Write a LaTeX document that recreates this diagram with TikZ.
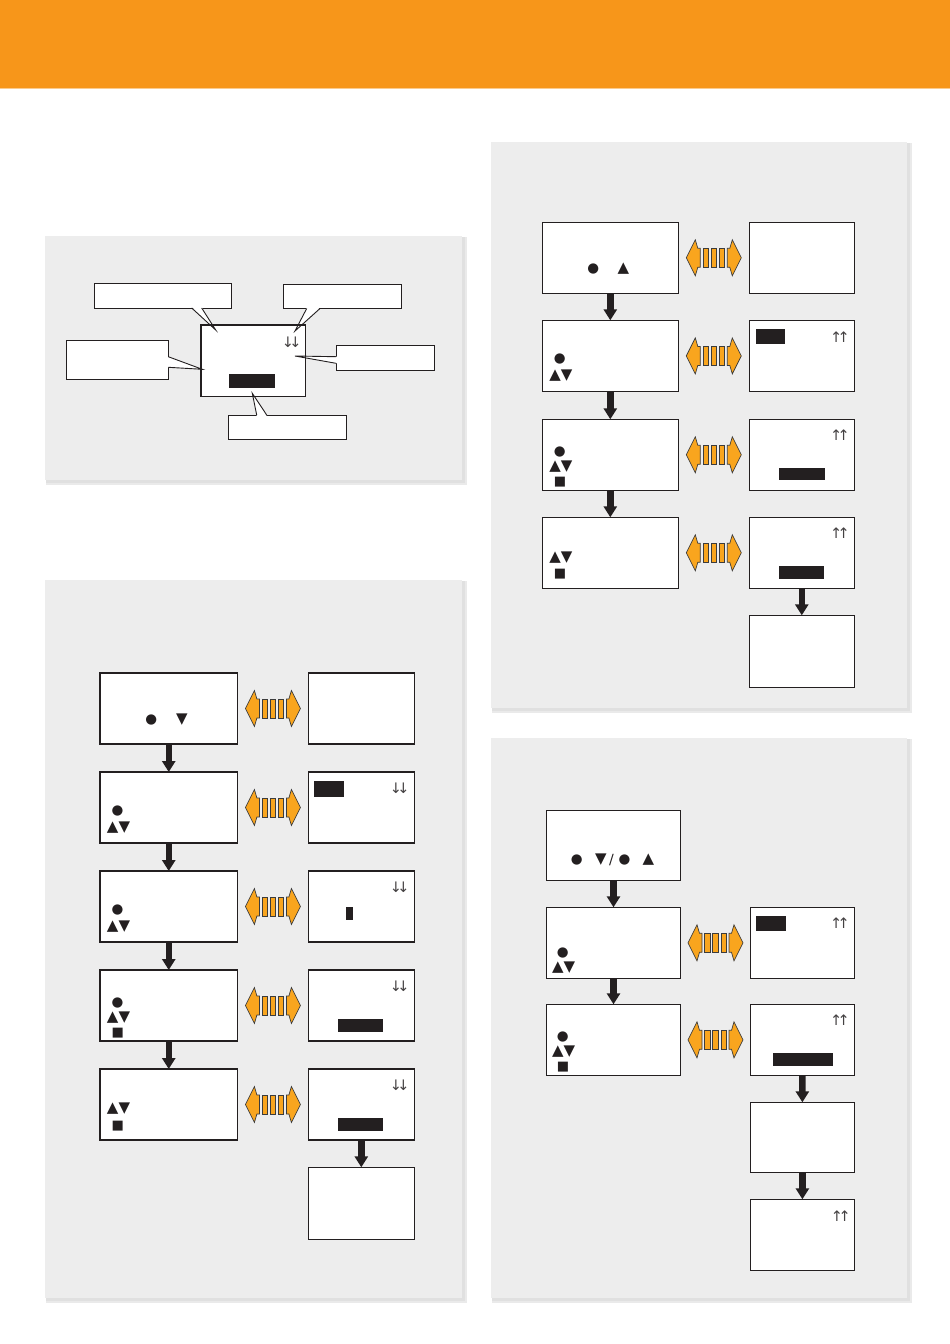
\documentclass[tikz,border=0pt]{standalone}
\usepackage{fontspec}
\usetikzlibrary{fit,calc,arrows.meta}
\newfontfamily\dejavu{DejaVu Sans}
\definecolor{band}{HTML}{F7961A}
\definecolor{bandline}{HTML}{FBCB8E}
\definecolor{pnl}{HTML}{EDEDED}
\definecolor{shdA}{HTML}{E0E0E0}
\definecolor{shdB}{HTML}{EAEAEA}
\definecolor{ink}{HTML}{231F20}
\definecolor{arrfillc}{HTML}{F9A51E}
\definecolor{arredge}{HTML}{3C3C3C}
\tikzset{
  scr/.style={draw=ink, line width=1.1pt, fill=white, inner sep=0pt, outer sep=0pt},
  callout/.style={draw=ink, line width=0.9pt, fill=white, inner sep=0pt, outer sep=0pt},
  bar/.style={fill=ink, inner sep=0pt, outer sep=0pt},
  dot/.style={inner sep=0pt, text=ink, font=\dejavu\fontsize{13.5}{13.5}\selectfont},
  tri/.style={inner sep=0pt, text=ink, font=\dejavu\fontsize{15}{15}\selectfont},
  sq/.style={inner sep=0pt, text=ink, font=\dejavu\fontsize{13}{13}\selectfont},
  slash/.style={inner sep=0pt, text=ink, font=\dejavu\fontsize{14}{14}\selectfont},
  pair/.style={inner sep=0pt, text=ink!85, font=\dejavu\fontsize{14.5}{14.5}\selectfont},
  dn/.style={draw=ink, line width=6.5pt, -{Triangle[width=13pt,length=11pt]}},
  arrpart/.style={fill=arrfillc, draw=arredge, line width=0.7pt, line join=miter},
  dblarr/.pic={
    \path[arrpart] (-27.5,0) -- (-18.5,-18) -- (-16,-9.5) -- (-13.5,-9.5) -- (-13.5,9.5) -- (-16,9.5) -- (-18.5,18) -- cycle;
    \path[arrpart] (27.5,0) -- (18.5,-18) -- (16,-9.5) -- (13.5,-9.5) -- (13.5,9.5) -- (16,9.5) -- (18.5,18) -- cycle;
    \path[arrpart] (-10.9,-9.5) rectangle (-5.5,9.5);
    \path[arrpart] (-2.7,-9.5) rectangle (2.7,9.5);
    \path[arrpart] (5.5,-9.5) rectangle (10.9,9.5);
  }
}
\newcommand\panelbg[4]{%
  \fill[shdB] (#1+1,#2+1) rectangle (#3+5,#4+5);
  \fill[shdA] (#1+1,#2+1) rectangle (#3+2.5,#4+2.5);
  \fill[pnl] (#1,#2) rectangle (#3,#4);}
\newcommand\scrbox[5]{\node[scr, fit={(#2,#3) (#4,#5)}] (#1) {};}
\newcommand\barbox[5]{\node[bar, fit={(#2,#3) (#4,#5)}] (#1) {};}
\newcommand\dndn{↓\kern-4.6pt↓}
\newcommand\upup{↑\kern-4.6pt↑}
\begin{document}
\begin{tikzpicture}[x=1pt,y=-1pt]
\useasboundingbox (0,0) rectangle (950,1344);
\fill[white] (0,0) rectangle (950,1344);
% header band
\fill[band] (0,0) rectangle (950,88);
\fill[bandline] (0,88) rectangle (950,89.3);
% panels
\panelbg{45}{236}{462}{480}
\panelbg{45}{580}{462}{1298}
\panelbg{491}{142}{907}{708}
\panelbg{491}{738}{907}{1298}

% ---------- Panel A ----------
\scrbox{amain}{201}{325}{305.5}{396.5}
\barbox{abar}{229}{374.3}{275.3}{387.7}
\node[pair] (aarr) at (291.7,342) {\dndn};
\node[callout, fit={(94.3,283.5) (231.5,308)}] (ctl) {};
\node[callout, fit={(283.5,284.3) (401,308.5)}] (ctr) {};
\node[callout, fit={(66,340) (168.3,379.3)}] (cl) {};
\node[callout, fit={(336,345.3) (434,370.7)}] (cr) {};
\node[callout, fit={(228.5,415) (346,439.3)}] (cb) {};
\coordinate (ttl) at (215.7,330);
\coordinate (ttr) at (295,331);
\coordinate (tl) at (202.3,369.3);
\coordinate (tr) at (295,356);
\coordinate (tb) at (252.3,393.3);
\fill[white] (191.7,307) -- (ttl) -- (201.7,307) -- cycle;
\draw[ink, line width=0.9pt] (191.7,308) -- (ttl) -- (201.7,308);
\fill[white] (306.7,307.5) -- (ttr) -- (320,307.5) -- cycle;
\draw[ink, line width=0.9pt] (306.7,308.5) -- (ttr) -- (320,308.5);
\fill[white] (167.3,356.7) -- (tl) -- (167.3,367.3) -- cycle;
\draw[ink, line width=0.9pt] (168.3,356.7) -- (tl) -- (168.3,367.3);
\fill[white] (337,356.7) -- (tr) -- (337,363.3) -- cycle;
\draw[ink, line width=0.9pt] (336,356.7) -- (tr) -- (336,363.3);
\fill[white] (256.7,416) -- (tb) -- (266.7,416) -- cycle;
\draw[ink, line width=0.9pt] (256.7,415) -- (tb) -- (266.7,415);
\draw[ink, line width=1.1pt] (amain.north west) rectangle (amain.south east);

% ---------- Panel B ----------
\scrbox{b1l}{100}{673}{237.5}{744}
\scrbox{b1r}{308.3}{673}{414.3}{744}
\scrbox{b2l}{100}{772}{237.5}{843}
\scrbox{b2r}{308.3}{772}{414.3}{843}
\scrbox{b3l}{100}{871}{237.5}{942}
\scrbox{b3r}{308.3}{871}{414.3}{942}
\scrbox{b4l}{100}{970}{237.5}{1041}
\scrbox{b4r}{308.3}{970}{414.3}{1041}
\scrbox{b5l}{100}{1069}{237.5}{1140}
\scrbox{b5r}{308.3}{1069}{414.3}{1140}
\scrbox{b6r}{308.3}{1167.3}{414.3}{1239.3}
\foreach \r in {1,...,5}{\pic at ($(b\r l.east)!0.5!(b\r r.west)$) {dblarr};}
\draw[dn] (b1l.south) -- (b2l.north);
\draw[dn] (b2l.south) -- (b3l.north);
\draw[dn] (b3l.south) -- (b4l.north);
\draw[dn] (b4l.south) -- (b5l.north);
\draw[dn] (b5r.south) -- (b6r.north);
\node[dot] (b1dot) at (151.2,720.3) {●};
\node[tri] (b1dn) at (182,720) {▼};
\node[dot] (b2dot) at (117.5,810.7) {●};
\node[tri] (b2ud) at (118.5,827.3) {▲▼};
\node[dot] (b3dot) at (117.5,910) {●};
\node[tri] (b3ud) at (118.5,926.7) {▲▼};
\node[dot] (b4dot) at (117.5,1002.7) {●};
\node[tri] (b4ud) at (118.5,1017.3) {▲▼};
\node[sq] (b4sq) at (117.8,1032.7) {■};
\node[tri] (b5ud) at (118.5,1109) {▲▼};
\node[sq] (b5sq) at (117.8,1126) {■};
\barbox{b2bar}{314.3}{780.7}{344.3}{796.7}
\node[pair] (b2arr) at (399.7,788) {\dndn};
\node[pair] (b3arr) at (399.7,887) {\dndn};
\barbox{b3bar}{346}{907.3}{353.3}{920}
\node[pair] (b4arr) at (399.7,986) {\dndn};
\barbox{b4bar}{338}{1019.3}{383.3}{1032}
\node[pair] (b5arr) at (399.7,1085) {\dndn};
\barbox{b5bar}{337.7}{1118.3}{383.3}{1131}

% ---------- Panel C ----------
\scrbox{c1l}{542.3}{222.3}{678.3}{293.3}
\scrbox{c1r}{749.3}{222.3}{854.3}{293.3}
\scrbox{c2l}{542.3}{320.3}{678.3}{391.5}
\scrbox{c2r}{749.3}{320.3}{854.3}{391.5}
\scrbox{c3l}{542.3}{419.3}{678.3}{490.3}
\scrbox{c3r}{749.3}{419.3}{854.3}{490.3}
\scrbox{c4l}{542.3}{517.3}{678.3}{588.3}
\scrbox{c4r}{749.3}{517.3}{854.3}{588.3}
\scrbox{c5r}{749.3}{615.3}{854.3}{687.3}
\foreach \r in {1,...,4}{\pic at ($(c\r l.east)!0.5!(c\r r.west)$) {dblarr};}
\draw[dn] (c1l.south) -- (c2l.north);
\draw[dn] (c2l.south) -- (c3l.north);
\draw[dn] (c3l.south) -- (c4l.north);
\draw[dn] (c4r.south) -- (c5r.north);
\node[dot] (c1dot) at (593.3,269) {●};
\node[tri] (c1up) at (623.5,269) {▲};
\node[dot] (c2dot) at (559.7,359.3) {●};
\node[tri] (c2ud) at (560.8,375.7) {▲▼};
\node[dot] (c3dot) at (559.7,451.7) {●};
\node[tri] (c3ud) at (560.8,466.3) {▲▼};
\node[sq] (c3sq) at (560,481.7) {■};
\node[tri] (c4ud) at (560.8,557.3) {▲▼};
\node[sq] (c4sq) at (560,574) {■};
\barbox{c2bar}{755.7}{329}{785}{344.3}
\node[pair] (c2arr) at (840,336.7) {\upup};
\node[pair] (c3arr) at (840,434.7) {\upup};
\barbox{c3bar}{778.7}{467.7}{824.7}{480.3}
\node[pair] (c4arr) at (840,533.3) {\upup};
\barbox{c4bar}{778.7}{566.3}{824.3}{579}

% ---------- Panel D ----------
\scrbox{d1l}{546.3}{810.3}{680.7}{880.3}
\scrbox{d2l}{546.3}{907.3}{680.7}{978.3}
\scrbox{d2r}{750.3}{907.3}{854.3}{978.3}
\scrbox{d3l}{546.3}{1004.3}{680.7}{1075.3}
\scrbox{d3r}{750.3}{1004.3}{854.3}{1075.3}
\scrbox{d4r}{750.3}{1102.3}{854.5}{1172.3}
\scrbox{d5r}{750.3}{1199.3}{854.5}{1270.3}
\foreach \r in {2,3}{\pic at ($(d\r l.east)!0.5!(d\r r.west)$) {dblarr};}
\draw[dn] (d1l.south) -- (d2l.north);
\draw[dn] (d2l.south) -- (d3l.north);
\draw[dn] (d3r.south) -- (d4r.north);
\draw[dn] (d4r.south) -- (d5r.north);
\node[dot] (d1dota) at (576.7,859.7) {●};
\node[tri] (d1dn) at (601,859.7) {▼};
\node[slash] (d1sl) at (611.5,859.7) {/};
\node[dot] (d1dotb) at (624.5,859.7) {●};
\node[tri] (d1up) at (648.5,859.7) {▲};
\node[dot] (d2dot) at (562.7,952.7) {●};
\node[tri] (d2ud) at (563.7,967.3) {▲▼};
\node[dot] (d3dot) at (562.7,1037) {●};
\node[tri] (d3ud) at (563.7,1051.7) {▲▼};
\node[sq] (d3sq) at (563,1066.7) {■};
\barbox{d2bar}{756.3}{915.7}{786.3}{930.7}
\node[pair] (d2arr) at (840,923.3) {\upup};
\node[pair] (d3arr) at (840,1020) {\upup};
\barbox{d3bar}{772.7}{1053}{832.7}{1066}
\node[pair] (d5arr) at (840.8,1215.8) {\upup};
\end{tikzpicture}
\end{document}
